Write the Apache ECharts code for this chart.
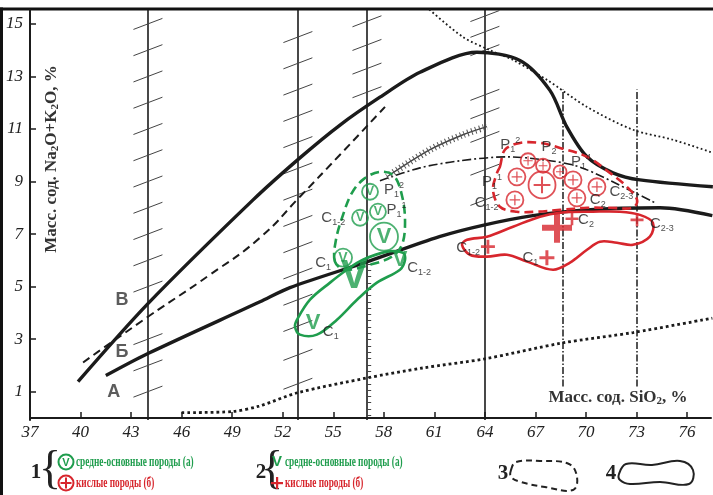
<!DOCTYPE html>
<html>
<head>
<meta charset="utf-8">
<script src="https://cdn.jsdelivr.net/npm/echarts@6/dist/echarts.min.js"></script>
<style>
  html, body { margin: 0; padding: 0; background: #fff; }
  #chart { width: 713px; height: 495px; }
</style>
</head>
<body>
<div id="chart"></div>
<script>
// ---- данные: SiO2 (x), Na2O+K2O (y) ----
const xTicks = [37, 40, 43, 46, 49, 52, 55, 58, 61, 64, 67, 70, 73, 76]
const yTicks = [1, 3, 5, 7, 9, 11, 13, 15]

// граничные линии
const lineA = [[41.5, 1.61], [44, 2.45], [50.65, 4.42], [52.43, 4.96], [57, 5.94], [61.3, 6.9], [64, 7.35], [66.85, 7.7], [70, 7.92], [74.4, 8.0], [77.5, 7.7]]
const lineV = [[39.85, 1.38], [44, 4.35], [50.24, 8.3], [53.02, 9.9], [55.4, 11.15], [57.77, 12.21], [60.15, 13.16], [63.53, 13.92], [66.08, 13.61], [67.86, 12.47], [68.87, 11.07], [70.06, 9.94], [71.6, 9.33], [73.2, 9.06], [77.53, 8.8]]
const lineB = [[40.15, 2.11], [44, 3.85], [47.68, 5.45], [50.65, 6.86], [53.02, 8.42], [55.4, 10.02], [58.07, 11.84]]
const dotTop = [[60.7, 15.55], [62.7, 14.5], [64.3, 14.0], [65.66, 13.63], [67.68, 12.87], [70.06, 11.84], [72.79, 10.97], [75.16, 10.59], [77.5, 10.1]]
const dotBottom = [[46.0, 0.2], [49.0, 0.24], [50.6, 0.45], [52.9, 0.96], [57, 1.52], [60.3, 1.9], [64, 2.25], [68.57, 2.85], [72.8, 3.25], [77.5, 3.8]]
const combLine = [[58.19, 9.18], [60.74, 10.21], [62.7, 10.78], [64.12, 11.09]]
const dashDot = [[57.77, 9.03], [60.15, 9.52], [62.52, 9.79], [65.31, 9.94], [67.56, 9.82], [69.64, 9.55], [72.79, 8.61], [74.1, 8.19]]

const verticals = [44, 52.9, 57, 64]
const dashDotVerticals = [68.6, 73]
const verticalDashRange = [1.2, 12.5]

// штрихи на вертикалях
const hatch44 = [15, 14, 13, 12, 11, 10, 9, 8, 7, 6, 5, 3, 2, 1]
const hatch53 = [14.5, 13.5, 12.5, 11.5, 10.5, 9.5, 8.5, 7.5, 6.5, 5.5, 4.5, 3.5, 2.4, 1.3]
const hatch57 = [15.1, 14.2, 13.3, 12.4]
const hatch64 = [15.3, 14.7, 14.0, 12.3, 11.6, 10.7, 9.45, 8.3]
// мелкие деления на линии 57
const ruler57 = [0.1, 0.34, 0.58, 0.82, 1.06, 1.3, 1.54, 1.78, 2.02, 2.26, 2.5, 2.74, 2.98, 3.22, 3.46, 3.7, 3.94, 4.18, 4.42, 4.66, 4.9, 5.14, 5.38, 5.62, 5.86, 6.1]

// точки составов
const greenCircleV = [[57.18, 8.61], [56.59, 7.62], [57.65, 7.85], [58.01, 6.9], [55.58, 6.1]]
const greenV = [[56.23, 5.38], [58.96, 6.02], [53.8, 3.63]]
const redCirclePlus = [[66.56, 9.79], [67.45, 9.6], [65.9, 9.18], [67.39, 8.87], [68.46, 9.37], [69.23, 9.06], [70.65, 8.8], [65.78, 8.3], [69.46, 8.38]]
const redPlus = [[68.28, 7.24], [69.17, 7.58], [73.03, 7.54], [64.18, 6.52], [67.68, 6.1]]

// контуры полей
const greenDashed = [[55.1, 5.95], [55.16, 6.78], [55.58, 7.73], [56.11, 8.57], [56.82, 9.1], [57.77, 9.37], [58.6, 9.22], [59.08, 8.46], [59.26, 7.47], [59.08, 6.59], [58.48, 6.14], [57.18, 5.83], [55.7, 5.64]]
const greenSolid = [[52.85, 3.74], [53.62, 4.5], [54.81, 5.15], [55.81, 5.64], [56.76, 6.02], [58.19, 6.33], [59.14, 6.29], [59.26, 6.02], [58.96, 5.64], [57.59, 5.15], [56.41, 4.5], [55.22, 3.74], [54.03, 3.17], [53.02, 3.17], [52.73, 3.47]]
const redDashed = [[64.89, 9.56], [65.19, 10.21], [66.08, 10.47], [67.27, 10.47], [68.46, 10.28], [70.06, 9.94], [71.42, 9.33], [72.43, 8.8], [73.03, 8.3], [72.79, 8.0], [71.42, 8.0], [70.06, 8.0], [68.46, 7.92], [67.09, 7.85], [65.9, 7.85], [64.89, 8.04], [64.48, 8.68], [64.72, 9.33]]
const redSolid = [[62.64, 6.59], [62.94, 6.78], [64.12, 6.9], [65.67, 7.28], [67.27, 7.66], [68.46, 7.81], [70.41, 7.85], [72.02, 7.85], [73.2, 7.73], [73.97, 7.43], [73.79, 6.9], [72.79, 6.59], [71.84, 6.67], [70.83, 6.71], [70.06, 6.4], [69.05, 5.91], [68.04, 5.64], [66.5, 5.95], [65.31, 6.21], [64.12, 6.14], [63.11, 6.21]]

// подписи: буква, нижний индекс, верхний индекс, x, y
const pointLabels = [
  ['P', '1', '2', 58.6, 8.68],
  ['P', '1', '1', 58.75, 7.91],
  ['C', '1-2', '', 55.0, 7.62],
  ['C', '1', '', 54.4, 5.9],
  ['C', '1-2', '', 60.1, 5.71],
  ['C', '1', '', 54.85, 3.27],
  ['P', '1', '2', 65.5, 10.4],
  ['P', '2', '', 67.8, 10.32],
  ['P', '1', '4', 69.7, 9.75],
  ['P', '1', '1', 64.42, 8.99],
  ['C', '1-2', '', 64.1, 8.19],
  ['C', '2-3', '', 72.1, 8.61],
  ['C', '2', '', 70.7, 8.3],
  ['C', '2', '', 70.0, 7.54],
  ['C', '2-3', '', 74.5, 7.4],
  ['C', '1-2', '', 63.0, 6.48],
  ['C', '1', '', 66.7, 6.1]
]
const curveLabels = [['В', 42.46, 4.5], ['Б', 42.46, 2.5], ['А', 41.97, 0.97]]

const GREEN = '#1f9d4d'
const RED = '#d7262d'
const INK = '#1b1b1b'
const PLUS = 'path://M-1,-5H1V-1H5V1H1V5H-1V1H-5V-1H-1Z'
const PLUS_THIN = 'path://M-0.6,-5H0.6V-0.6H5V0.6H0.6V5H-0.6V0.6H-5V-0.6H-0.6Z'

const chart = echarts.init(document.getElementById('chart'))

const curve = (data, width, type, color, smooth) => ({
  type: 'line',
  data: data,
  smooth: smooth || 0.3,
  symbol: 'none',
  silent: true,
  lineStyle: { width: width, type: type, color: color || INK },
  z: 2
})

const segments = (list, width, type, color) => ({
  type: 'lines',
  coordinateSystem: 'cartesian2d',
  silent: true,
  data: list.map((c) => ({ coords: c })),
  lineStyle: { width: width, type: type, color: color || INK, opacity: 1 },
  z: 1
})

const hatch = (x, ys) => ys.map((y) => [[x - 0.86, y - 0.21], [x + 0.86, y + 0.21]])

const contour = (points, color, dashed) => ({
  type: 'custom',
  coordinateSystem: 'cartesian2d',
  silent: true,
  data: [points[0]],
  z: 3,
  renderItem: function (params, api) {
    return {
      type: 'polygon',
      shape: { points: points.map((p) => api.coord(p)), smooth: 0.35 },
      style: { fill: 'none', stroke: color, lineWidth: 2.6, lineDash: dashed ? [9, 5] : null }
    }
  }
})

const greenCircleSize = [16, 16, 16, 28, 18]
const greenVSize = [40, 22, 22]
const redCircleSize = [15, 14, 17, 27, 13, 17, 17, 17, 17]
const redPlusSize = [30, 13, 13, 14, 15]

const legendText = (x, y, text, color) => ({
  type: 'text', x: x, y: y, scaleX: 0.64,
  style: { text: text, fontSize: 14.5, fontWeight: 'bold', fontFamily: 'Liberation Serif', fill: color, verticalAlign: 'middle' }
})
const bigText = (x, y, text, size, weight) => ({
  type: 'text', x: x, y: y,
  style: { text: text, fontSize: size, fontWeight: weight || 'bold', fontFamily: 'Liberation Serif', fill: '#222', align: 'center', verticalAlign: 'middle' }
})

const option = {
  animation: false,
  backgroundColor: '#fff',
  grid: { left: 30, top: 10, width: 681, height: 410 },
  xAxis: {
    type: 'value',
    min: 37,
    max: 77.42,
    splitLine: { show: false },
    axisLine: { lineStyle: { color: INK, width: 2 } },
    axisTick: { inside: true, length: 6, customValues: xTicks.slice(1), lineStyle: { color: INK, width: 1.5 } },
    axisLabel: {
      customValues: xTicks,
      margin: 4,
      color: '#222',
      fontSize: 17,
      fontStyle: 'italic',
      fontFamily: 'Liberation Serif'
    }
  },
  yAxis: {
    type: 'value',
    min: -0.08,
    max: 15.53,
    splitLine: { show: false },
    axisLine: { lineStyle: { color: INK, width: 2 } },
    axisTick: { inside: true, length: 6, customValues: yTicks, lineStyle: { color: INK, width: 1.5 } },
    axisLabel: {
      customValues: yTicks,
      margin: 7,
      color: '#222',
      fontSize: 17,
      fontStyle: 'italic',
      fontFamily: 'Liberation Serif'
    }
  },
  series: [
    segments(verticals.map((x) => [[x, -0.08], [x, 15.53]]), 1.6, 'solid'),
    segments(dashDotVerticals.map((x) => [[x, verticalDashRange[0]], [x, verticalDashRange[1]]]), 1.5, [7, 2, 1.5, 2]),
    segments([].concat(hatch(44, hatch44), hatch(52.9, hatch53), hatch(57, hatch57), hatch(64, hatch64)), 1, 'solid', '#444'),
    segments(ruler57.map((y) => [[57, y], [57.25, y]]), 1, 'solid', '#444'),
    curve(lineA, 3.4, 'solid'),
    curve(lineV, 3.4, 'solid'),
    curve(lineB, 2, [8, 5], INK, 0.5),
    curve(dotTop, 1.8, [1.8, 2.6]),
    curve(dotBottom, 2.8, [2.8, 3]),
    curve(dashDot, 1.6, [9, 3, 2, 3]),
    curve(combLine, 1.4, 'solid', '#444'),
    curve(combLine, 7, [1, 3], '#555'),
    contour(greenDashed, GREEN, true),
    contour(greenSolid, GREEN, false),
    contour(redDashed, RED, true),
    contour(redSolid, RED, false),
    {
      type: 'scatter',
      silent: true,
      z: 5,
      symbol: 'circle',
      data: greenCircleV.map((p, i) => ({ value: p, symbolSize: greenCircleSize[i], label: { fontSize: greenCircleSize[i] * 0.78 } })),
      itemStyle: { color: 'rgba(0,0,0,0)', borderColor: GREEN, borderWidth: 1.8 },
      label: { show: true, position: 'inside', formatter: 'V', color: GREEN, fontWeight: 'bold', fontFamily: 'Liberation Sans' }
    },
    {
      type: 'scatter',
      silent: true,
      z: 5,
      symbolSize: 1,
      data: greenV.map((p, i) => ({ value: p, label: { fontSize: greenVSize[i] } })),
      itemStyle: { color: 'rgba(0,0,0,0)' },
      label: { show: true, position: 'inside', formatter: 'V', color: GREEN, fontWeight: 'bold', fontFamily: 'Liberation Sans' }
    },
    {
      type: 'scatter',
      silent: true,
      z: 5,
      symbol: 'circle',
      data: redCirclePlus.map((p, i) => ({ value: p, symbolSize: redCircleSize[i] })),
      itemStyle: { color: 'rgba(0,0,0,0)', borderColor: RED, borderWidth: 1.8 }
    },
    {
      type: 'scatter',
      silent: true,
      z: 5,
      symbol: PLUS_THIN,
      data: redCirclePlus.map((p, i) => ({ value: p, symbolSize: redCircleSize[i] * 0.62 })),
      itemStyle: { color: RED }
    },
    {
      type: 'scatter',
      silent: true,
      z: 5,
      symbol: PLUS,
      data: redPlus.map((p, i) => ({ value: p, symbolSize: redPlusSize[i] })),
      itemStyle: { color: RED }
    },
    {
      type: 'scatter',
      silent: true,
      z: 6,
      symbolSize: 1,
      data: pointLabels.map((d) => ({ value: [d[3], d[4]], sub: d[1], sup: d[2], main: d[0] })),
      itemStyle: { color: 'rgba(0,0,0,0)' },
      label: {
        show: true,
        position: 'inside',
        formatter: (p) => '{m|' + p.data.main + '}{s|' + p.data.sub + '}' + (p.data.sup ? '{t|' + p.data.sup + '}' : ''),
        rich: {
          m: { fontSize: 15, color: INK, fontFamily: 'Liberation Sans', lineHeight: 18 },
          s: { fontSize: 9, color: INK, fontFamily: 'Liberation Sans', verticalAlign: 'bottom', lineHeight: 18 },
          t: { fontSize: 9, color: INK, fontFamily: 'Liberation Sans', verticalAlign: 'top', lineHeight: 18 }
        }
      }
    },
    {
      type: 'scatter',
      silent: true,
      z: 6,
      symbolSize: 1,
      data: curveLabels.map((d) => ({ value: [d[1], d[2]], name: d[0] })),
      itemStyle: { color: 'rgba(0,0,0,0)' },
      label: { show: true, position: 'inside', formatter: '{b}', color: '#333', fontSize: 18, fontWeight: 'bold', fontFamily: 'Liberation Sans' }
    }
  ],
  graphic: [
    // рамка
    { type: 'line', shape: { x1: 1.5, y1: 7.5, x2: 1.5, y2: 495 }, style: { stroke: '#111', lineWidth: 3 } },
    { type: 'line', shape: { x1: 0, y1: 9, x2: 713, y2: 9 }, style: { stroke: '#111', lineWidth: 3 } },
    // подписи осей
    {
      type: 'text', x: 52, y: 159, rotation: Math.PI / 2,
      style: {
        text: '{m|Масс. сод. Na}{s|2}{m|O+K}{s|2}{m|O, %}',
        align: 'center', verticalAlign: 'middle',
        rich: {
          m: { fontSize: 17, fontWeight: 'bold', fontFamily: 'Liberation Serif', fill: '#333' },
          s: { fontSize: 11, fontWeight: 'bold', fontFamily: 'Liberation Serif', fill: '#333', verticalAlign: 'bottom' }
        }
      }
    },
    {
      type: 'text', x: 618, y: 398,
      style: {
        text: '{m|Масс. сод. SiO}{s|2}{m|, %}',
        align: 'center', verticalAlign: 'middle',
        rich: {
          m: { fontSize: 17, fontWeight: 'bold', fontFamily: 'Liberation Serif', fill: '#333' },
          s: { fontSize: 11, fontWeight: 'bold', fontFamily: 'Liberation Serif', fill: '#333', verticalAlign: 'bottom' }
        }
      }
    },
    // легенда
    bigText(36, 473, '1', 21),
    bigText(50, 471, '{', 46, 'normal'),
    { type: 'circle', shape: { cx: 66, cy: 462, r: 7.5 }, style: { fill: 'none', stroke: GREEN, lineWidth: 2 } },
    { type: 'text', x: 66, y: 462.5, style: { text: 'V', fontSize: 11, fontWeight: 'bold', fontFamily: 'Liberation Sans', fill: GREEN, align: 'center', verticalAlign: 'middle' } },
    { type: 'circle', shape: { cx: 66, cy: 483, r: 7.5 }, style: { fill: 'none', stroke: RED, lineWidth: 2 } },
    { type: 'rect', shape: { x: 65, y: 477.5, width: 2, height: 11 }, style: { fill: RED } },
    { type: 'rect', shape: { x: 60.5, y: 482, width: 11, height: 2 }, style: { fill: RED } },
    legendText(76, 462, 'средне-основные породы (а)', GREEN),
    legendText(76, 483, 'кислые породы (б)', RED),
    bigText(261, 473, '2', 21),
    bigText(272, 471, '{', 46, 'normal'),
    { type: 'text', x: 277, y: 462, style: { text: 'V', fontSize: 15, fontWeight: 'bold', fontFamily: 'Liberation Sans', fill: GREEN, align: 'center', verticalAlign: 'middle' } },
    { type: 'rect', shape: { x: 276, y: 477, width: 2.2, height: 12 }, style: { fill: RED } },
    { type: 'rect', shape: { x: 271, y: 482, width: 12, height: 2.2 }, style: { fill: RED } },
    legendText(285, 462, 'средне-основные породы (а)', GREEN),
    legendText(285, 483, 'кислые породы (б)', RED),
    bigText(503, 474, '3', 21),
    {
      type: 'polygon',
      shape: { points: [[511, 470], [516, 462], [540, 461], [569, 464], [577, 477], [573, 490], [545, 487], [521, 482], [511, 477]], smooth: 0.4 },
      style: { fill: 'none', stroke: '#222', lineWidth: 2, lineDash: [6, 4] }
    },
    bigText(611, 474, '4', 21),
    {
      type: 'polygon',
      shape: { points: [[619, 474], [626, 464], [652, 465], [680, 461], [693, 470], [689, 484], [660, 482], [630, 484], [620, 480]], smooth: 0.4 },
      style: { fill: 'none', stroke: '#222', lineWidth: 2 }
    }
  ]
}

chart.setOption(option)
</script>
</body>
</html>
